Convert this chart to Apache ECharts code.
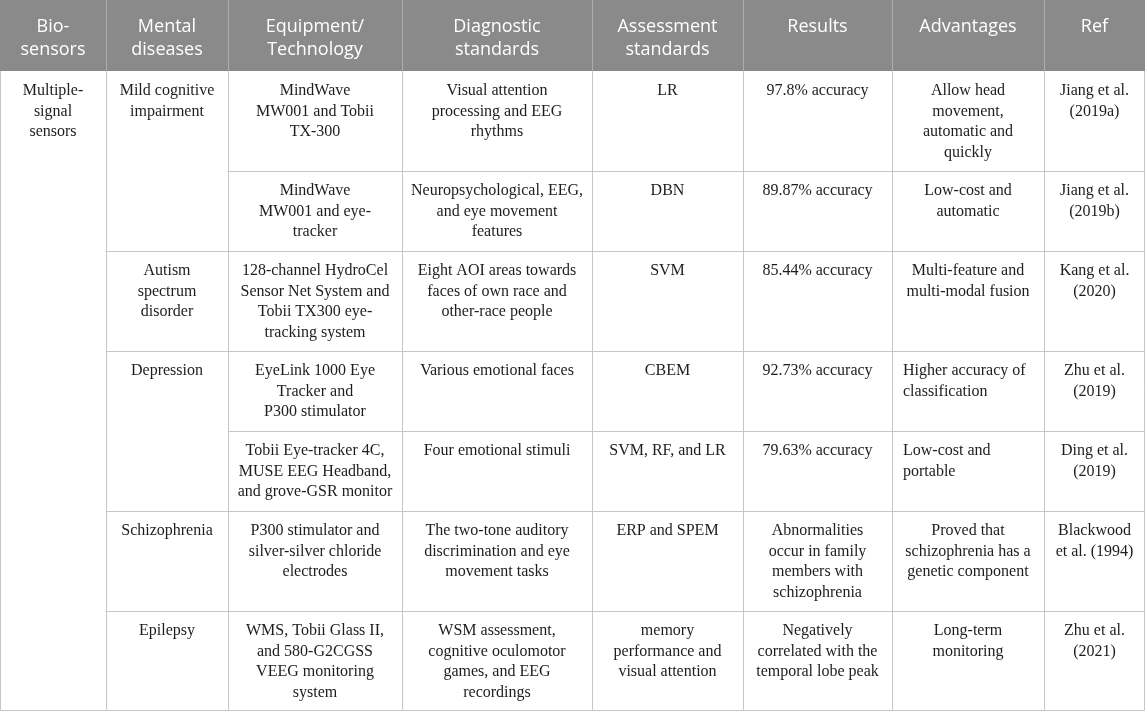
<!DOCTYPE html>
<html>
<head>
<meta charset="utf-8">
<title>Multiple-signal sensors</title>
<script src="https://cdn.jsdelivr.net/npm/echarts@6/dist/echarts.min.js"></script>
<style>
html, body { margin: 0; padding: 0; background: #fff; }
#main { width: 1145px; height: 713px; }
</style>
</head>
<body>
<div id="main"></div>
<script>
// table content
var headerLabels = ["Bio-\nsensors", "Mental\ndiseases", "Equipment/\nTechnology", "Diagnostic\nstandards",
	"Assessment\nstandards", "Results", "Advantages", "Ref"];
var bioSensor = "Multiple-\nsignal\nsensors";
var diseases = ["Mild cognitive\nimpairment", "Autism\nspectrum\ndisorder", "Depression", "Schizophrenia", "Epilepsy"];
var diseaseRowSpans = [2, 1, 2, 1, 1];
var equipment = [
	"MindWave\nMW001 and Tobii\nTX-300",
	"MindWave\nMW001 and eye-\ntracker",
	"128-channel HydroCel\nSensor Net System and\nTobii TX300 eye-\ntracking system",
	"EyeLink 1000 Eye\nTracker and\nP300 stimulator",
	"Tobii Eye-tracker 4C,\nMUSE EEG Headband,\nand grove-GSR monitor",
	"P300 stimulator and\nsilver-silver chloride\nelectrodes",
	"WMS, Tobii Glass II,\nand 580-G2CGSS\nVEEG monitoring\nsystem"
];
var diagnostic = [
	"Visual attention\nprocessing and EEG\nrhythms",
	"Neuropsychological, EEG,\nand eye movement\nfeatures",
	"Eight AOI areas towards\nfaces of own race and\nother-race people",
	"Various emotional faces",
	"Four emotional stimuli",
	"The two-tone auditory\ndiscrimination and eye\nmovement tasks",
	"WSM assessment,\ncognitive oculomotor\ngames, and EEG\nrecordings"
];
var assessment = ["LR", "DBN", "SVM", "CBEM", "SVM, RF, and LR", "ERP and SPEM",
	"memory\nperformance and\nvisual attention"];
var results = ["97.8% accuracy", "89.87% accuracy", "85.44% accuracy", "92.73% accuracy", "79.63% accuracy",
	"Abnormalities\noccur in family\nmembers with\nschizophrenia",
	"Negatively\ncorrelated with the\ntemporal lobe peak"];
var advantages = [
	"Allow head\nmovement,\nautomatic and\nquickly",
	"Low-cost and\nautomatic",
	"Multi-feature and\nmulti-modal fusion",
	"Higher accuracy of\nclassification",
	"Low-cost and\nportable",
	"Proved that\nschizophrenia has a\ngenetic component",
	"Long-term\nmonitoring"
];
var refs = ["Jiang et al.\n(2019a)", "Jiang et al.\n(2019b)", "Kang et al.\n(2020)", "Zhu et al.\n(2019)",
	"Ding et al.\n(2019)", "Blackwood\net al. (1994)", "Zhu et al.\n(2021)"];

// layout
var colWidths = [106, 122, 174, 190, 151, 149, 152, 101];
var headerHeight = 71;
var bodyLine = 20.5;   // body line height
var bodyPad = 10;      // top padding in body cells
var headLine = 23;
var headPad = 15;
var leftCells = {"6_3": true, "6_4": true}; // [col_row] cells that are left aligned
var bodyFont = '16px "Liberation Serif", "Times New Roman", serif';
var headFont = '18px "Open Sans", "Noto Sans", sans-serif';
var lineColor = "#c6c6c6";
var textColor = "#1e1c1c";

var chart = echarts.init(document.getElementById("main"));
var W = 1145;

var colX = [0];
for (var i = 0; i < colWidths.length; i++) colX.push(colX[i] + colWidths[i]);

var bodyCols = [equipment, diagnostic, assessment, results, advantages, refs];
function nLines(s) { return s.split("\n").length; }

// row heights from the tallest cell of each row
var rowTop = [headerHeight];
for (var r = 0; r < equipment.length; r++) {
	var m = 1;
	for (var c = 0; c < bodyCols.length; c++) m = Math.max(m, nLines(bodyCols[c][r]));
	rowTop.push(rowTop[r] + Math.round(m * bodyLine + 18));
}
var bottom = rowTop[rowTop.length - 1];

var els = [];
// header background
els.push({type: "rect", shape: {x: 0, y: 0, width: W, height: headerHeight}, style: {fill: "#8a8a8a"}, silent: true});
for (var c = 1; c < colWidths.length; c++) {
	els.push({type: "line", shape: {x1: colX[c] + 0.5, y1: 0, x2: colX[c] + 0.5, y2: headerHeight},
		style: {stroke: "#adadad", lineWidth: 1}, silent: true});
}

function cellText(txt, col, top, font, lh, fill, left) {
	var x = left ? colX[col] + 11 : colX[col] + colWidths[col] / 2;
	return {type: "text", x: x, y: top, silent: true, style: {
		text: txt, font: font, fill: fill, lineHeight: lh,
		align: left ? "left" : "center", textAlign: left ? "left" : "center",
		verticalAlign: "top", textVerticalAlign: "top"}};
}

for (var c = 0; c < headerLabels.length; c++) {
	els.push(cellText(headerLabels[c], c, headPad, headFont, headLine, "#ffffff", false));
}

// first column spans the whole body
els.push(cellText(bioSensor, 0, rowTop[0] + bodyPad, bodyFont, bodyLine, textColor, false));

// disease groups
var groupEnds = {};
var rr = 0;
for (var g = 0; g < diseases.length; g++) {
	els.push(cellText(diseases[g], 1, rowTop[rr] + bodyPad, bodyFont, bodyLine, textColor, false));
	rr += diseaseRowSpans[g];
	groupEnds[rr] = true;
}

// per-row cells
for (var r = 0; r < equipment.length; r++) {
	for (var c = 0; c < bodyCols.length; c++) {
		var col = c + 2;
		els.push(cellText(bodyCols[c][r], col, rowTop[r] + bodyPad, bodyFont, bodyLine, textColor,
			!!leftCells[col + "_" + r]));
	}
}

// grid lines
for (var r = 1; r < equipment.length; r++) {
	var xs = groupEnds[r] ? colX[1] : colX[2];
	els.push({type: "line", shape: {x1: xs, y1: rowTop[r] + 0.5, x2: W, y2: rowTop[r] + 0.5},
		style: {stroke: lineColor, lineWidth: 1}, silent: true});
}
for (var c = 1; c < colWidths.length; c++) {
	els.push({type: "line", shape: {x1: colX[c] + 0.5, y1: headerHeight, x2: colX[c] + 0.5, y2: bottom},
		style: {stroke: lineColor, lineWidth: 1}, silent: true});
}
// outer border of body
els.push({type: "polyline", shape: {points: [[0.5, headerHeight], [0.5, bottom - 0.5], [W - 0.5, bottom - 0.5], [W - 0.5, headerHeight]]},
	style: {stroke: lineColor, lineWidth: 1, fill: null}, silent: true});

chart.setOption({
	animation: false,
	graphic: {elements: els}
});
</script>
</body>
</html>
